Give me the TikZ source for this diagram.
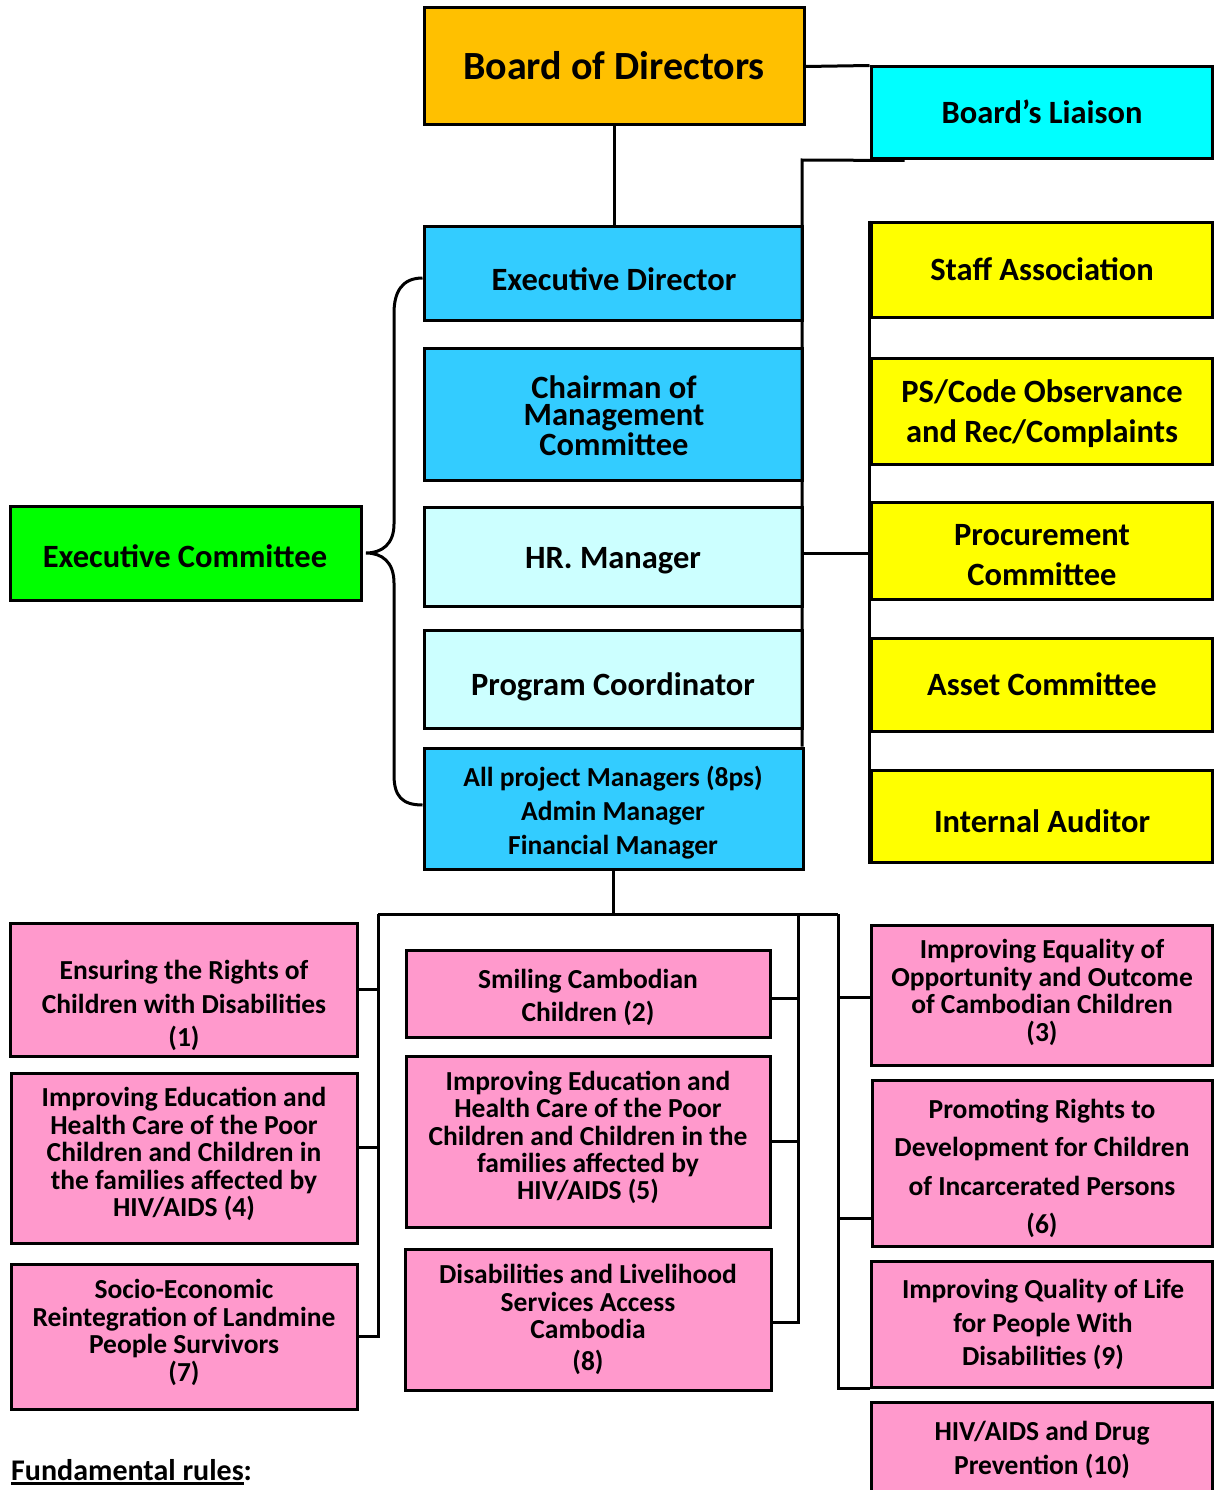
\documentclass[tikz,border=0pt]{standalone}
\usepackage{fontspec}
\setmainfont{Carlito}
\definecolor{cBoard}{HTML}{FFC000}
\definecolor{cLiaison}{HTML}{00FFFF}
\definecolor{cBlue}{HTML}{33CCFF}
\definecolor{cLight}{HTML}{CCFFFF}
\definecolor{cYellow}{HTML}{FFFF00}
\definecolor{cGreen}{HTML}{00FF00}
\definecolor{cPink}{HTML}{FF99CC}
\tikzset{
  box/.style={draw=black, line width=3pt, inner sep=0pt, rectangle},
  txtL/.style={align=center, inner sep=0pt, font=\fontsize{40}{48}\selectfont\bfseries},
  txtM/.style={align=center, inner sep=0pt, font=\fontsize{32.5}{40}\selectfont\bfseries},
  txtS/.style={align=center, inner sep=0pt, font=\fontsize{27.5}{#1}\selectfont\bfseries},
  txtS/.default=33.5,
  conn/.style={draw=black, line width=3pt},
}
\begin{document}
\begin{tikzpicture}[x=1pt,y=-1pt]
\clip (0,0) rectangle (1214,1490);
\fill[white] (0,0) rectangle (1214,1490);

% ---- top boxes
\node[box, fill=cBoard, minimum width=380pt, minimum height=117pt] (board) at (614,66.5) {};
\node[txtL] (boardT) at (614,66) {Board of Directors};
\node[box, fill=cLiaison, minimum width=341pt, minimum height=92pt] (liaison) at (1041.5,113) {};
\node[txtM] (liaisonT) at (1042,112) {Board’s Liaison};

\node[box, fill=cBlue, minimum width=378pt, minimum height=94pt] (ed) at (613,273) {};
\node[txtM] (edT) at (614,279) {Executive Director};
\node[box, fill=cBlue, minimum width=378pt, minimum height=132pt] (chair) at (613,414) {};
\node[txtM, font=\fontsize{32.5}{27.5}\selectfont\bfseries] (chairT) at (614,415.5) {Chairman of\\Management\\Committee};
\node[box, fill=cLight, minimum width=378pt, minimum height=99pt] (hrm) at (613,556.5) {};
\node[txtM] (hrmT) at (613,561) {HR. Manager};
\node[box, fill=cLight, minimum width=378pt, minimum height=98pt] (pc) at (613,679) {};
\node[txtM] (pcT) at (613,687) {Program Coordinator};
\node[box, fill=cBlue, minimum width=379pt, minimum height=121pt] (apm) at (613.5,808.5) {};
\node[txtS=34] (apmT) at (613,813) {All project Managers (8ps)\\Admin Manager\\Financial Manager};

\node[box, fill=cGreen, minimum width=351pt, minimum height=94pt] (ec) at (185.5,553) {};
\node[txtM] (ecT) at (185,556) {Executive Committee};

\node[box, fill=cYellow, minimum width=341pt, minimum height=95pt] (staff) at (1041.5,269.5) {};
\node[txtM] (staffT) at (1042,269) {Staff Association};
\node[box, fill=cYellow, minimum width=341pt, minimum height=106pt] (ps) at (1041.5,411) {};
\node[txtM] (psT) at (1042,414) {PS/Code Observance\\and Rec/Complaints};
\node[box, fill=cYellow, minimum width=341pt, minimum height=97pt] (proc) at (1041.5,550.5) {};
\node[txtM] (procT) at (1042,555) {Procurement\\Committee};
\node[box, fill=cYellow, minimum width=341pt, minimum height=93pt] (asset) at (1041.5,684.5) {};
\node[txtM] (assetT) at (1042,684) {Asset Committee};
\node[box, fill=cYellow, minimum width=341pt, minimum height=92pt] (ia) at (1041.5,816) {};
\node[txtM] (iaT) at (1042,821) {Internal Auditor};

% ---- top connectors
\draw[conn] (board.south) -- (board.south |- ed.north);
\draw[conn] (board.east) -- (liaison.north west);
\coordinate (lb) at (802,160);
\draw[conn] ([xshift=35pt]liaison.south west) -- (lb) -- (lb |- apm.north east);
\draw[conn] (hrm.east |- 0,553) -- (proc.west |- 0,553);
\draw[conn] (staff.north west) -- (ia.south west);
\draw[conn] (ed.west |- 0,278) .. controls (402,278) and (394,292) .. (394,313)
  -- (394,524) .. controls (394,544) and (382,553) .. (366,553)
  .. controls (382,553) and (394,562) .. (394,583)
  -- (394,775) .. controls (394,796) and (402,805) .. (apm.west |- 0,805);

% ---- bottom boxes
\node[box, fill=cPink, minimum width=347pt, minimum height=133pt] (b1) at (183.5,989.5) {};
\node[txtS] (b1T) at (184,1005.5) {Ensuring the Rights of\\Children with Disabilities\\(1)};
\node[box, fill=cPink, minimum width=346pt, minimum height=170pt] (b4) at (184,1158) {};
\node[txtS=27.5] (b4T) at (184,1154) {Improving Education and\\Health Care of the Poor\\Children and Children in\\the families affected by\\HIV/AIDS (4)};
\node[box, fill=cPink, minimum width=346pt, minimum height=145pt] (b7) at (184,1336.5) {};
\node[txtS=27.7] (b7T) at (184,1332.5) {Socio-Economic\\Reintegration of Landmine\\People Survivors\\(7)};

\node[box, fill=cPink, minimum width=364pt, minimum height=87pt] (b2) at (588,993.5) {};
\node[txtS=33] (b2T) at (588,997.5) {Smiling Cambodian\\Children (2)};
\node[box, fill=cPink, minimum width=364pt, minimum height=171pt] (b5) at (588,1141.5) {};
\node[txtS=27.3] (b5T) at (588,1137.5) {Improving Education and\\Health Care of the Poor\\Children and Children in the\\families affected by\\HIV/AIDS (5)};
\node[box, fill=cPink, minimum width=366pt, minimum height=141pt] (b8) at (588,1319.5) {};
\node[txtS=27.5] (b8T) at (588,1319.5) {Disabilities and Livelihood\\Services Access\\Cambodia\\[4pt](8)};

\node[box, fill=cPink, minimum width=341pt, minimum height=140pt] (b3) at (1041.5,995) {};
\node[txtS=27.7] (b3T) at (1042,992.5) {Improving Equality of\\Opportunity and Outcome\\of Cambodian Children\\(3)};
\node[box, fill=cPink, minimum width=340pt, minimum height=166pt] (b6) at (1042,1163) {};
\node[txtS=38.3] (b6T) at (1042,1168.5) {Promoting Rights to\\Development for Children\\of Incarcerated Persons\\(6)};
\node[box, fill=cPink, minimum width=341pt, minimum height=126pt] (b9) at (1041.5,1324) {};
\node[txtS=33.5] (b9T) at (1043,1324.5) {Improving Quality of Life\\for People With\\Disabilities (9)};
\node[box, fill=cPink, minimum width=341pt, minimum height=140pt] (b10) at (1041.5,1472) {};
\node[txtS=34] (b10T) at (1042,1450) {HIV/AIDS and Drug\\Prevention (10)};

% ---- bottom connectors
\coordinate (tbL) at (378,914);
\coordinate (tbM) at (798,914);
\coordinate (tbR) at (838,914);
\draw[conn] (apm.south) -- (apm.south |- tbL);
\draw[conn] (tbL) -- (tbR);
\draw[conn] (b1.east) -| (tbL);
\draw[conn] (b4.east |- 0,1147) -| (tbL);
\draw[conn] (b7.east) -| (tbL);
\draw[conn] (b2.east |- 0,998) -| (tbM);
\draw[conn] (b5.east) -| (tbM);
\draw[conn] (b8.east |- 0,1322) -| (tbM);
\draw[conn] (b3.west |- 0,997) -| (tbR);
\draw[conn] (b6.west |- 0,1218) -| (tbR);
\draw[conn] (b9.south west) -| (tbR);

% ---- footer
\node[anchor=base west, inner sep=0pt, font=\fontsize{30}{36}\selectfont\bfseries] (fr) at (11,1480)
  {\setbox0\hbox{Fundamental rules}\rlap{\rule[-5pt]{\wd0}{3pt}}\box0:};
\end{tikzpicture}
\end{document}
